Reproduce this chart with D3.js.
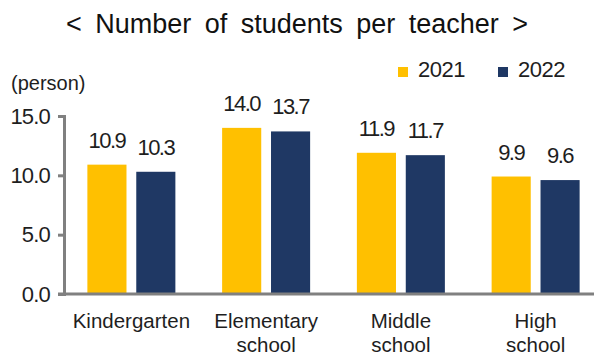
<!DOCTYPE html>
<html>
<head>
<meta charset="utf-8">
<script src="https://cdn.jsdelivr.net/npm/d3@7"></script>
<style>
  html, body { margin: 0; padding: 0; background: #fff; }
  svg { display: block; font-family: "Liberation Sans", Arial, Helvetica, sans-serif; }
</style>
</head>
<body>
<svg id="chart" width="594" height="358"></svg>
<script>
// Students per teacher by school level, 2021 vs 2022
const categories = ["Kindergarten", "Elementary school", "Middle school", "High school"];
const categoryLines = [["Kindergarten"], ["Elementary", "school"], ["Middle", "school"], ["High", "school"]];
const years = ["2021", "2022"];
const values2021 = [10.9, 14.0, 11.9, 9.9];
const values2022 = [10.3, 13.7, 11.7, 9.6];
const yTicks = [0, 5, 10, 15];

const colors = { "2021": "#FFC000", "2022": "#1F3864" };
const seriesByYear = { "2021": values2021, "2022": values2022 };
const textColor = "#1e1e1e";
const axisColor = "#808080";

const svg = d3.select("#chart");

// Title
svg.append("text")
  .attr("x", 297).attr("y", 33)
  .attr("text-anchor", "middle")
  .attr("font-size", 27)
  .attr("word-spacing", 6)
  .attr("fill", "#111")
  .text("< Number of students per teacher >");

// Scales
const y = d3.scaleLinear().domain([0, 15]).range([294, 116]);
const x0 = d3.scaleBand().domain(categories).range([64, 603]).padding(0);
const x1 = d3.scaleBand().domain(years).range([0, 88]).paddingInner(0.2);

// Bars
const groups = svg.append("g").selectAll("g")
  .data(categories)
  .join("g")
  .attr("transform", d => `translate(${x0(d) + x0.bandwidth() / 2 - 44},0)`);

const barData = (cat, i) => years.map(yr => ({ year: yr, value: seriesByYear[yr][i] }));

groups.selectAll("rect")
  .data((d, i) => barData(d, i))
  .join("rect")
  .attr("x", d => x1(d.year))
  .attr("y", d => y(d.value))
  .attr("width", x1.bandwidth())
  .attr("height", d => y(0) - y(d.value))
  .attr("fill", d => colors[d.year]);

// Value labels
groups.selectAll("text.val")
  .data((d, i) => barData(d, i))
  .join("text")
  .attr("class", "val")
  .attr("x", d => x1(d.year) + x1.bandwidth() / 2)
  .attr("y", d => y(d.value) - 17)
  .attr("text-anchor", "middle")
  .attr("font-size", 22)
  .attr("letter-spacing", -1.5)
  .attr("fill", textColor)
  .text(d => d.value.toFixed(1));

// Y axis
const yAxis = d3.axisLeft(y)
  .tickValues(yTicks)
  .tickFormat(d3.format(".1f"))
  .tickSize(6)
  .tickSizeOuter(6)
  .tickPadding(8);

const gy = svg.append("g")
  .attr("transform", "translate(64,0)")
  .call(yAxis);
gy.select(".domain").attr("stroke", axisColor).attr("stroke-width", 3);
gy.selectAll(".tick line").attr("stroke", axisColor).attr("stroke-width", 3);
gy.selectAll(".tick text")
  .attr("font-size", 22)
  .attr("letter-spacing", -0.8)
  .attr("fill", textColor)
  .attr("font-family", "Liberation Sans, Arial, sans-serif");

// Baseline
svg.append("line")
  .attr("x1", 58).attr("x2", 594)
  .attr("y1", y(0)).attr("y2", y(0))
  .attr("stroke", axisColor).attr("stroke-width", 3);

// Category labels
const catLabels = svg.append("g").selectAll("text")
  .data(categories)
  .join("text")
  .attr("text-anchor", "middle")
  .attr("font-size", 20.5)
  .attr("fill", textColor)
  .attr("transform", d => `translate(${x0(d) + x0.bandwidth() / 2},328)`);

catLabels.selectAll("tspan")
  .data((d, i) => categoryLines[i])
  .join("tspan")
  .attr("x", 0)
  .attr("y", (d, i) => i * 23.5)
  .text(d => d);

// Unit label
svg.append("text")
  .attr("x", 11).attr("y", 90)
  .attr("font-size", 20)
  .attr("fill", textColor)
  .text("(person)");

// Legend
const legendX = [398, 498];
const legend = svg.append("g").selectAll("g")
  .data(years)
  .join("g")
  .attr("transform", (d, i) => `translate(${legendX[i]},67)`);
legend.append("rect")
  .attr("width", 10).attr("height", 10)
  .attr("fill", d => colors[d]);
legend.append("text")
  .attr("x", 20).attr("y", 10)
  .attr("font-size", 22)
  .attr("letter-spacing", -0.5)
  .attr("fill", textColor)
  .text(d => d);
</script>
</body>
</html>
